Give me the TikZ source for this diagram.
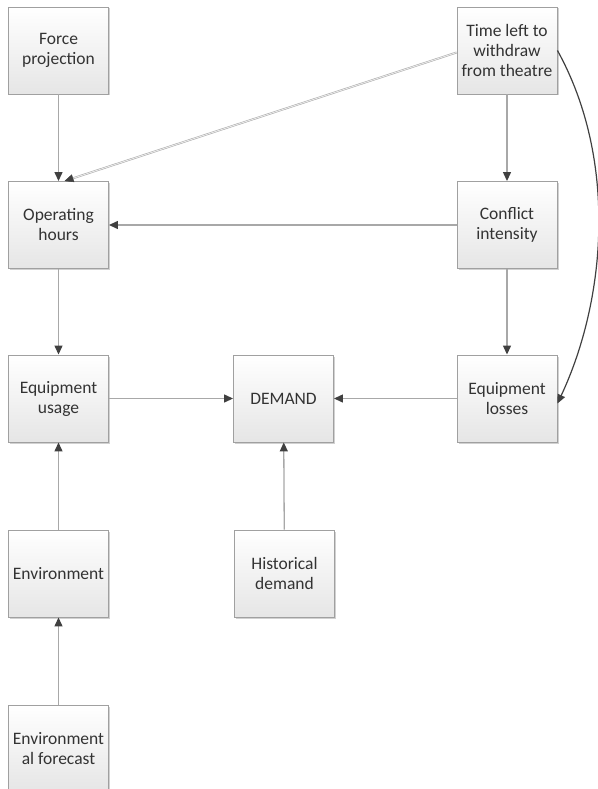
\documentclass[tikz,border=0pt]{standalone}
\usepackage{fontspec}
\setmainfont{Carlito}
\usetikzlibrary{arrows.meta,shadows}
\definecolor{txt}{HTML}{333333}
\definecolor{bord}{HTML}{A0A0A0}
\definecolor{lin}{HTML}{A8A8A8}
\definecolor{tip}{HTML}{404040}
\tikzset{
  box/.style={draw=bord, line width=0.9pt, top color=white, bottom color=black!10,
    minimum width=100pt, minimum height=87pt, inner sep=1pt, align=center,
    text=txt, font=\fontsize{17.5}{20}\selectfont,
    drop shadow={shadow xshift=1.5pt, shadow yshift=-1.5pt, fill=black, opacity=0.18}},
  conn/.style={draw=lin, line width=1.3pt, -{Triangle[length=9pt,width=8pt,fill=tip,color=tip]}},
  curv/.style={draw=tip, line width=1.2pt, -{Triangle[length=9pt,width=8pt,fill=tip,color=tip]}},
  diag/.style={draw=lin, line width=0.5pt, double=white!92!black, double distance=0.9pt,
    -{Triangle[length=9pt,width=8pt,fill=tip,color=tip]}}
}
\begin{document}
\begin{tikzpicture}[x=1pt,y=-1pt]
\useasboundingbox (0,0) rectangle (597,789);
\node[box] (fp)  at (58.5,50.5)  {Force\\projection};
\node[box] (tl)  at (507,50.5)   {Time left to\\withdraw\\from theatre};
\node[box] (oh)  at (58.5,225)   {Operating\\hours};
\node[box] (ci)  at (507,225)    {Conflict\\intensity};
\node[box] (eu)  at (58.5,398.5) {Equipment\\usage};
\node[box] (dm)  at (283.5,398.5) {DEMAND};
\node[box] (el)  at (507,398.5)  {Equipment\\losses};
\node[box] (env) at (58.5,573.5) {Environment};
\node[box] (hd)  at (284.5,573.5) {Historical\\demand};
\node[box] (ef)  at (58.5,748.5) {Environment\\al forecast};
\coordinate (ohtop) at ([xshift=6pt]oh.north);
\draw[conn] (fp) -- (oh);
\draw[diag] ([yshift=-2pt]tl.west) -- (ohtop);
\draw[conn] (tl) -- (ci);
\draw[conn] (ci) -- (oh);
\draw[conn] (oh) -- (eu);
\draw[conn] (ci) -- (el);
\draw[conn] (eu) -- (dm);
\draw[conn] (el) -- (dm);
\draw[conn] (hd) -- (dm);
\draw[conn] (env) -- (eu);
\draw[conn] (ef) -- (env);
\draw[curv] (tl.east) .. controls (618,160) and (606,300) .. ([yshift=-5pt]el.east);
\end{tikzpicture}
\end{document}
